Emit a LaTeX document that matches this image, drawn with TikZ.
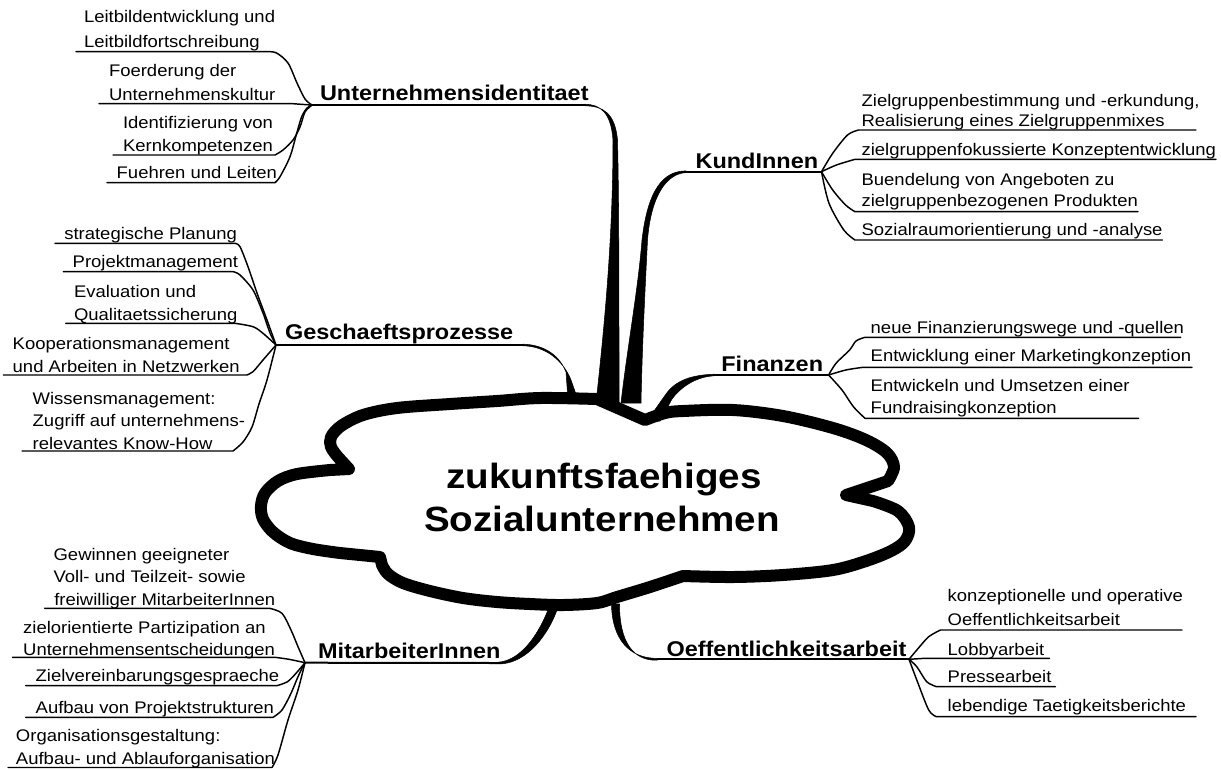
\documentclass[tikz,border=0pt]{standalone}
\usepackage{fontspec}
\setmainfont{Liberation Sans}[FakeStretch=1.1]
\newcommand\subfnt{\fontsize{12.6pt}{15pt}\selectfont}
\newcommand\hdrfnt{\fontsize{16pt}{19pt}\selectfont\bfseries}
\newcommand\hubfnt{\fontsize{26.3pt}{32pt}\selectfont\bfseries}
\tikzset{
  txt/.style={anchor=base west, inner sep=0pt, outer sep=0pt, font=\subfnt},
  hdr/.style={anchor=base west, inner sep=0pt, outer sep=0pt, font=\hdrfnt},
  hub/.style={anchor=base, inner sep=0pt, outer sep=0pt, font=\hubfnt},
  sub/.style={line width=1.1pt, line cap=round, line join=round},
  hline/.style={line width=1.5pt, line cap=round},
  stem/.style={fill=black, draw=black, line width=0.4pt, line join=round},
  cloudline/.style={line width=9pt, line join=round},
}
\begin{document}
\begin{tikzpicture}[x=0.75pt,y=-0.75pt]
\useasboundingbox (0,0) rectangle (1221,769);

% ---------- junction coordinates ----------
\coordinate (JU) at (312,105);
\coordinate (JG) at (276,345);
\coordinate (JK) at (821.5,171.7);
\coordinate (JF) at (828.6,375);
\coordinate (JM) at (305,662.7);
\coordinate (JO) at (909,659.3);
\coordinate (hUe) at (585,105);
\coordinate (hGe) at (523,345);
\coordinate (hKs) at (686,171.7);
\coordinate (hFs) at (713.8,375);
\coordinate (hMe) at (498,663);
\coordinate (hOs) at (657.4,659.3);

% ---------- main stems (tapered) ----------
\fill[stem] (585,104.2) .. controls (600,104.5) and (611,112) .. (613,140)
  .. controls (613,240) and (604,330) .. (596,403) -- (619,403)
  .. controls (619,300) and (619,200) .. (617.5,140)
  .. controls (615,113) and (603,106) .. (585,105.8) -- cycle;
\fill[stem] (686,170.9) .. controls (664,171) and (648,188) .. (642,240)
  .. controls (638,290) and (627,350) .. (621,403) -- (641,403)
  .. controls (642,350) and (645,290) .. (647.5,240)
  .. controls (651,195) and (667,173.5) .. (686,172.6) -- cycle;
\fill[stem] (714,374.2) .. controls (692,375) and (676,380) .. (666,394) -- (647,421)
  -- (660,421) -- (672,399) .. controls (680,388) and (695,376.8) .. (714,375.8) -- cycle;
\fill[stem] (523,344.2) .. controls (540,344.5) and (558,352) .. (566,372) -- (568,400)
  -- (578,400) -- (571,380) .. controls (563,360) and (545,346) .. (523,345.8) -- cycle;
\fill[stem] (498,662.2) .. controls (518,661) and (536,640) .. (548,610)
  -- (557,610) .. controls (545,642) and (522,664.5) .. (498,663.9) -- cycle;
\fill[stem] (611.5,604) .. controls (612,640) and (630,658.5) .. (657.4,658.4)
  -- (657.4,660.2) .. controls (633,661) and (619.5,642) .. (619.5,604) -- cycle;

% ---------- header underlines ----------
\draw[hline] (JU) -- (hUe);
\draw[hline] (JG) -- (hGe);
\draw[hline] (hKs) -- (JK);
\draw[hline] (hFs) -- (JF);
\draw[hline] (JM) -- (hMe);
\draw[hline] (hOs) -- (JO);

% ---------- central cloud ----------
\draw[cloudline]
  plot[smooth,tension=0.55] coordinates {(645,420) (665,413) (683,411) (733,410) (783,416) (833,428) (866,440) (887,453) (894,467) (888,481)}
  -- (846,495)
  -- plot[smooth,tension=0.55] coordinates {(873,501) (898,511) (909,527) (905,541) (891,551) (866,561) (833,570) (783,575) (733,577) (683,576)}
  -- plot[smooth,tension=0.55] coordinates {(683,576) (650,587) (617,597) (597,603) (563,605) (530,604) (497,602) (463,598) (430,591) (403,583) (388,574) (382,565)}
  -- (380,557)
  -- plot[smooth,tension=0.55] coordinates {(340,553) (313,549) (290,543) (273,532) (263,519) (261,506) (265,493) (278,481) (297,474) (330,470)}
  -- (349,469)
  -- plot[smooth,tension=0.55] coordinates {(338,457) (331,447) (331,437) (341,426) (363,415) (397,408) (450,404) (497,401) (540,398) (597,399)}
  -- cycle;

\node[hub] (hub1) at (604,488) {zukunftsfaehiges};
\node[hub] (hub2) at (602,531.7) {Sozialunternehmen};

% ---------- headers ----------
\node[hdr] (hU) at (320,100.7) {Unternehmensidentitaet};
\node[hdr] (hG) at (285,339.3) {Geschaeftsprozesse};
\node[hdr] (hK) at (695.6,168.3) {KundInnen};
\node[hdr] (hF) at (721.4,371.7) {Finanzen};
\node[hdr] (hM) at (318,658.3) {MitarbeiterInnen};
\node[hdr] (hO) at (666.5,656) {Oeffentlichkeitsarbeit};

% ---------- Unternehmensidentitaet ----------
\node[txt] (ua1) at (84,22.7) {Leitbildentwicklung und};
\node[txt] (ua2) at (84,47.3) {Leitbildfortschreibung};
\coordinate (uaL) at (76,51.7); \coordinate (uaR) at (265,51.7);
\draw[sub] (uaL) -- (uaR) -- plot[smooth] coordinates {(uaR) (276,52.7) (288,63) (297,83) (305,99) (JU)};
\node[txt] (ub1) at (109,76) {Foerderung der};
\node[txt] (ub2) at (109,100) {Unternehmenskultur};
\coordinate (ubL) at (99,103.7); \coordinate (ubR) at (293,103.7);
\draw[sub] (ubL) -- (ubR) -- plot[smooth] coordinates {(ubR) (304,104.5) (JU)};
\node[txt] (uc1) at (123,128.3) {Identifizierung von};
\node[txt] (uc2) at (123,151.7) {Kernkompetenzen};
\coordinate (ucL) at (113,155); \coordinate (ucR) at (275,155);
\draw[sub] (ucL) -- (ucR) -- plot[smooth] coordinates {(ucR) (283,150) (293,140) (300,127) (305,112) (JU)};
\node[txt] (ud1) at (116.7,178.3) {Fuehren und Leiten};
\coordinate (udL) at (107,182.7); \coordinate (udR) at (275,182.7);
\draw[sub] (udL) -- (udR) -- plot[smooth] coordinates {(udR) (280,176.7) (290,156.7) (296.7,133.3) (301.7,116.7) (307,108) (JU)};

% ---------- Geschaeftsprozesse ----------
\node[txt] (ga1) at (64.3,239.3) {strategische Planung};
\coordinate (gaL) at (55,243.3); \coordinate (gaR) at (235,243.3);
\draw[sub] (gaL) -- (gaR) -- plot[smooth] coordinates {(gaR) (240,246.7) (248,266.7) (257,293) (267,320) (JG)};
\node[txt] (gb1) at (72.7,267.3) {Projektmanagement};
\coordinate (gbL) at (63.3,271.7); \coordinate (gbR) at (233.3,271.7);
\draw[sub] (gbL) -- (gbR) -- plot[smooth] coordinates {(gbR) (240,275) (253,290) (263,313) (270,333) (JG)};
\node[txt] (gc1) at (74,297.3) {Evaluation und};
\node[txt] (gc2) at (74,320) {Qualitaetssicherung};
\coordinate (gcL) at (65.7,323.3); \coordinate (gcR) at (235,323.3);
\draw[sub] (gcL) -- (gcR) -- plot[smooth] coordinates {(gcR) (253,326.7) (263,333.3) (JG)};
\node[txt] (gd1) at (12.7,349.3) {Kooperationsmanagement};
\node[txt] (gd2) at (12.7,372.7) {und Arbeiten in Netzwerken};
\coordinate (gdL) at (3.3,375); \coordinate (gdR) at (246.7,375);
\draw[sub] (gdL) -- (gdR) -- plot[smooth] coordinates {(gdR) (253,371.7) (263,360) (JG)};
\node[txt] (ge1) at (32.7,404) {Wissensmanagement:};
\node[txt] (ge2) at (32.7,426.5) {Zugriff auf unternehmens-};
\node[txt] (ge3) at (32.7,449) {relevantes Know-How};
\coordinate (geL) at (22,451); \coordinate (geR) at (233,451);
\draw[sub] (geL) -- (geR) -- plot[smooth] coordinates {(geR) (243,442) (252,427) (259,404) (267,380) (JG)};

% ---------- KundInnen ----------
\node[txt] (ka1) at (861.6,106) {Zielgruppenbestimmung und -erkundung,};
\node[txt] (ka2) at (861.6,126) {Realisierung eines Zielgruppenmixes};
\coordinate (kaL) at (858.6,130); \coordinate (kaR) at (1195.8,130);
\draw[sub] (JK) -- plot[smooth] coordinates {(JK) (832.7,153.3) (847.5,135) (kaL)} -- (kaR);
\node[txt] (kb1) at (861.6,155) {zielgruppenfokussierte Konzeptentwicklung};
\coordinate (kbL) at (855,159.3); \coordinate (kbR) at (1216,159.3);
\draw[sub] (JK) -- plot[smooth] coordinates {(JK) (836.4,165) (kbL)} -- (kbR);
\node[txt] (kc1) at (861.6,185) {Buendelung von Angeboten zu};
\node[txt] (kc2) at (861.6,206.7) {zielgruppenbezogenen Produkten};
\coordinate (kcL) at (855,211.7); \coordinate (kcR) at (1138,211.7);
\draw[sub] (JK) -- plot[smooth] coordinates {(JK) (832.7,190) (845.6,205) (kcL)} -- (kcR);
\node[txt] (kd1) at (861.6,235) {Sozialraumorientierung und -analyse};
\coordinate (kdL) at (855,240); \coordinate (kdR) at (1162.4,240);
\draw[sub] (JK) -- plot[smooth] coordinates {(JK) (829,203.3) (843.8,230) (kdL)} -- (kdR);

% ---------- Finanzen ----------
\node[txt] (fa1) at (870.7,333.3) {neue Finanzierungswege und -quellen};
\coordinate (faL) at (865,337.3); \coordinate (faR) at (1180.7,337.3);
\draw[sub] (JF) -- plot[smooth] coordinates {(JF) (836,363.3) (849.6,350) (856,341) (faL)} -- (faR);
\node[txt] (fb1) at (870.7,361.7) {Entwicklung einer Marketingkonzeption};
\coordinate (fbL) at (863,367.3); \coordinate (fbR) at (1192,367.3);
\draw[sub] (JF) -- plot[smooth] coordinates {(JF) (845.8,370) (fbL)} -- (fbR);
\node[txt] (fc1) at (870.7,391.7) {Entwickeln und Umsetzen einer};
\node[txt] (fc2) at (870.7,413.3) {Fundraisingkonzeption};
\coordinate (fcL) at (865,418.3); \coordinate (fcR) at (1138.6,418.3);
\draw[sub] (JF) -- plot[smooth] coordinates {(JF) (842,390) (853.4,406.7) (fcL)} -- (fcR);

% ---------- MitarbeiterInnen ----------
\node[txt] (ma1) at (53.6,560.7) {Gewinnen geeigneter};
\node[txt] (ma2) at (53.6,582.5) {Voll- und Teilzeit- sowie};
\node[txt] (ma3) at (54.3,605) {freiwilliger MitarbeiterInnen};
\coordinate (maL) at (44.6,608.3); \coordinate (maR) at (269.6,608.3);
\draw[sub] (maL) -- (maR) -- plot[smooth] coordinates {(maR) (282,613.3) (291,630) (298,646.7) (JM)};
\node[txt] (mb1) at (23.2,633.3) {zielorientierte Partizipation an};
\node[txt] (mb2) at (23.2,655) {Unternehmensentscheidungen};
\coordinate (mbL) at (12.5,657.3); \coordinate (mbR) at (275,657.3);
\draw[sub] (mbL) -- (mbR) -- plot[smooth] coordinates {(mbR) (289,659.3) (JM)};
\node[txt] (mc1) at (35.7,681.7) {Zielvereinbarungsgespraeche};
\coordinate (mcL) at (25.7,685.7); \coordinate (mcR) at (276.8,685.7);
\draw[sub] (mcL) -- (mcR) -- plot[smooth] coordinates {(mcR) (287.5,681.7) (296,673.3) (JM)};
\node[txt] (md1) at (35.7,713.3) {Aufbau von Projektstrukturen};
\coordinate (mdL) at (25.7,717.3); \coordinate (mdR) at (273,717.3);
\draw[sub] (mdL) -- (mdR) -- plot[smooth] coordinates {(mdR) (282,710) (291,693.3) (298,676.7) (JM)};
\node[txt] (me1) at (16,741.7) {Organisationsgestaltung:};
\node[txt] (me2) at (16,764) {Aufbau- und Ablauforganisation};
\coordinate (meL) at (8,767.5); \coordinate (meR) at (272,767.5);
\draw[sub] (meL) -- (meR) -- plot[smooth] coordinates {(meR) (278,755) (288,720) (298,690) (JM)};

% ---------- Oeffentlichkeitsarbeit ----------
\node[txt] (oa1) at (947.7,601.7) {konzeptionelle und operative};
\node[txt] (oa2) at (947.7,625) {Oeffentlichkeitsarbeit};
\coordinate (oaL) at (940.6,630); \coordinate (oaR) at (1182,630);
\draw[sub] (JO) -- plot[smooth] coordinates {(JO) (916.8,650) (928.7,636.7) (oaL)} -- (oaR);
\node[txt] (ob1) at (947.7,655) {Lobbyarbeit};
\coordinate (obL) at (924.8,658.3); \coordinate (obR) at (1049.5,658.3);
\draw[sub] (JO) -- (obL) -- (obR);
\node[txt] (oc1) at (947.7,682.7) {Pressearbeit};
\coordinate (ocL) at (936.6,686.7); \coordinate (ocR) at (1055.4,686.7);
\draw[sub] (JO) -- plot[smooth] coordinates {(JO) (916.8,666.7) (926.7,681.7) (ocL)} -- (ocR);
\node[txt] (od1) at (947.7,711.7) {lebendige Taetigkeitsberichte};
\coordinate (odL) at (936.6,716.7); \coordinate (odR) at (1196,716.7);
\draw[sub] (JO) -- plot[smooth] coordinates {(JO) (916.8,680) (928.7,710) (odL)} -- (odR);
\end{tikzpicture}
\end{document}
